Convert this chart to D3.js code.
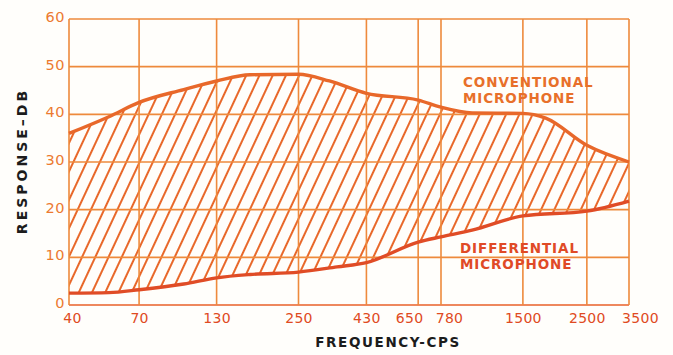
<!DOCTYPE html>
<html><head><meta charset="utf-8">
<script src="https://cdn.jsdelivr.net/npm/d3@7"></script>
<style>body{margin:0;background:#fffefb}</style>
</head><body>
<svg id="c" width="673" height="355"></svg>
<script>
const xTicks = [40, 70, 130, 250, 430, 650, 780, 1500, 2500, 3500];
const yTicks = [0, 10, 20, 30, 40, 50, 60];
const convFreq = [40, 55, 70, 100, 130, 170, 250, 320, 430, 650, 780, 1000, 1500, 1800, 2500, 3500];
const convDb   = [36, 39.5, 42.5, 45.2, 47, 48.3, 48.4, 47, 44.4, 43, 41.5, 40.3, 40.2, 39.2, 33.5, 30];
const diffFreq = [40, 55, 70, 100, 130, 170, 250, 340, 430, 650, 780, 1000, 1500, 2500, 3500];
const diffDb   = [2.5, 2.6, 3.2, 4.4, 5.7, 6.4, 6.9, 8.0, 8.9, 13.2, 14.3, 15.7, 18.7, 19.7, 21.8];

const svg = d3.select('#c');
const x = d3.scaleLog().domain([40, 3500]).range([69, 629]);
const y = d3.scaleLinear().domain([0, 60]).range([305, 19]);

const defs = svg.append('defs');
const pat = defs.append('pattern').attr('id','hatch').attr('patternUnits','userSpaceOnUse')
  .attr('width',12).attr('height',12).attr('patternTransform','rotate(25)');
pat.append('line').attr('x1',3).attr('y1',0).attr('x2',3).attr('y2',12)
  .attr('stroke','#e8682a').attr('stroke-width',2);

const conv = convFreq.map((f,i)=>[f, convDb[i]]);
const diff = diffFreq.map((f,i)=>[f, diffDb[i]]);

const line = d3.line().x(d=>x(d[0])).y(d=>y(d[1])).curve(d3.curveMonotoneX);
const areaPath = line(conv) + 'L' + line(diff.slice().reverse()).slice(1) + 'Z';
svg.append('path').attr('d', areaPath).attr('fill','url(#hatch)');

// grid
svg.append('g').selectAll('line').data(yTicks).join('line')
  .attr('x1',69).attr('x2',629).attr('y1',d=>y(d)).attr('y2',d=>y(d))
  .attr('stroke',d=>d===0?'#e8602a':'#ee8a3c').attr('stroke-width',1.6);
svg.append('g').selectAll('line').data(xTicks).join('line')
  .attr('x1',d=>x(d)).attr('x2',d=>x(d)).attr('y1',y(0)).attr('y2',y(60))
  .attr('stroke','#ee8a3c').attr('stroke-width',1.6);

// curves
svg.append('path').attr('d',line(conv)).attr('fill','none')
  .attr('stroke','#e8682a').attr('stroke-width',3.4);
svg.append('path').attr('d',line(diff)).attr('fill','none')
  .attr('stroke','#e04c26').attr('stroke-width',3.4);

// axes
const font = "DejaVu Sans, sans-serif";
const labelShift = {40: 3, 650: -9, 780: 8, 3500: 11};
const xAxis = d3.axisBottom(x).tickValues(xTicks).tickFormat(d3.format('d')).tickSize(0).tickPadding(0);
const gx = svg.append('g').attr('transform','translate(0,312)').call(xAxis);
gx.select('.domain').remove();
gx.selectAll('text').attr('fill','#e04a22').attr('font-family',font).attr('font-size',14)
  .attr('dy','0.75em').attr('dx',d=>labelShift[d]||0).attr('letter-spacing',0.3);

const yAxis = d3.axisLeft(y).tickValues(yTicks).tickSize(0).tickPadding(4);
const gy = svg.append('g').attr('transform','translate(69,-2)').call(yAxis);
gy.select('.domain').remove();
gy.selectAll('text').attr('fill','#ec7a30').attr('font-family',font).attr('font-size',14.5)
  .attr('letter-spacing',0.5);

// titles
svg.append('text').attr('transform','translate(27,161) rotate(-90)').attr('text-anchor','middle')
  .attr('font-family',font).attr('font-size',14).attr('font-weight','bold').attr('fill','#1c1c1c')
  .attr('letter-spacing',3).text('RESPONSE\u2013DB');
svg.append('text').attr('x',388).attr('y',347).attr('text-anchor','middle')
  .attr('font-family',font).attr('font-size',13.5).attr('font-weight','bold').attr('fill','#1c1c1c')
  .attr('letter-spacing',1.6).text('FREQUENCY-CPS');

// annotations
const ann = [
  {t:'CONVENTIONAL', x:463, y:87, c:'#e8702a'},
  {t:'MICROPHONE', x:463, y:103, c:'#e8702a'},
  {t:'DIFFERENTIAL', x:460, y:253, c:'#e04a26'},
  {t:'MICROPHONE', x:460, y:269, c:'#e04a26'}
];
svg.append('g').selectAll('text').data(ann).join('text')
  .attr('x',d=>d.x).attr('y',d=>d.y).attr('fill',d=>d.c)
  .attr('font-family',font).attr('font-size',13.5).attr('font-weight','bold')
  .attr('letter-spacing',0.9).text(d=>d.t);
</script>
</body></html>
